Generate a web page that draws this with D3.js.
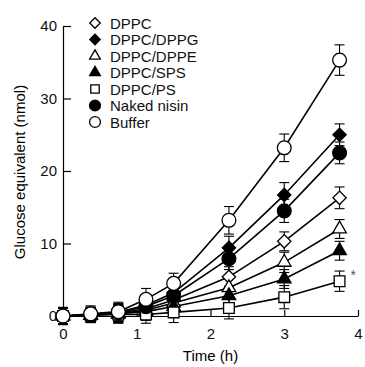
<!DOCTYPE html>
<meta charset="utf-8">
<style>
    body { margin: 0; background: #fff; }
    text { font-family: "Liberation Sans", Arial, sans-serif; }
</style>
<script src="https://d3js.org/d3.v7.min.js"></script>
<div id="chart"></div>
<script>
    // time points (h)
    var time = [0, 0.375, 0.75, 1.125, 1.5, 2.25, 3, 3.75];

    var seriesNames = ["DPPC", "DPPC/DPPG", "DPPC/DPPE", "DPPC/SPS", "DPPC/PS", "Naked nisin", "Buffer"];

    var dppc   = [0, 0.2, 0.4, 1.0, 2.2, 5.4, 10.3, 16.3];
    var dppg   = [0, 0.2, 0.5, 1.5, 3.2, 9.4, 16.7, 25.0];
    var dppe   = [0, 0.1, 0.3, 0.8, 1.8, 3.9, 7.4, 12.0];
    var sps    = [0, 0.1, 0.3, 0.6, 1.3, 2.8, 5.1, 9.0];
    var ps     = [0, 0.1, 0.2, 0.2, 0.5, 1.1, 2.6, 4.8];
    var naked  = [0, 0.2, 0.5, 1.3, 2.8, 7.9, 14.5, 22.5];
    var buffer = [0, 0.3, 0.6, 2.3, 4.5, 13.2, 23.2, 35.3];

    // error (+/-)
    var dppcErr   = [1.1, 1.0, 1.2, 1.2, 1.2, 1.4, 1.3, 1.5];
    var dppgErr   = [1.1, 1.0, 1.2, 1.2, 1.3, 1.6, 1.7, 1.5];
    var dppeErr   = [1.1, 1.0, 1.2, 1.2, 1.2, 1.3, 1.4, 1.3];
    var spsErr    = [1.1, 1.0, 1.2, 1.2, 1.2, 1.3, 1.3, 1.3];
    var psErr     = [1.1, 1.0, 1.2, 1.2, 1.4, 1.5, 1.6, 1.4];
    var nakedErr  = [1.1, 1.0, 1.2, 1.2, 1.3, 1.5, 1.6, 1.5];
    var bufferErr = [1.2, 1.1, 1.3, 1.5, 1.4, 1.9, 1.9, 2.1];

    var xTicks = [0, 1, 2, 3, 4];
    var yTicks = [0, 10, 20, 30, 40];

    var series = [
        {name: seriesNames[0], vals: dppc,   err: dppcErr,   shape: "diamond",  fill: "#fff"},
        {name: seriesNames[1], vals: dppg,   err: dppgErr,   shape: "diamond",  fill: "#000"},
        {name: seriesNames[2], vals: dppe,   err: dppeErr,   shape: "triangle", fill: "#fff"},
        {name: seriesNames[3], vals: sps,    err: spsErr,    shape: "triangle", fill: "#000"},
        {name: seriesNames[4], vals: ps,     err: psErr,     shape: "square",   fill: "#fff"},
        {name: seriesNames[5], vals: naked,  err: nakedErr,  shape: "circle",   fill: "#000"},
        {name: seriesNames[6], vals: buffer, err: bufferErr, shape: "circle",   fill: "#fff"}
    ];

    var margin = {top: 26, right: 7, bottom: 51, left: 63},
        width = 365 - margin.left - margin.right,
        height = 367 - margin.top - margin.bottom;

    var svg = d3.select("#chart")
        .append("svg")
        .attr("width", 365)
        .attr("height", 367)
        .append("g")
        .attr("transform", "translate(" + margin.left + "," + margin.top + ")");

    var x = d3.scaleLinear().domain([0, 4]).range([0, width]);
    var y = d3.scaleLinear().domain([0, 40]).range([height, 0]);

    // axes, ticks inward
    var xAxis = svg.append("g")
        .attr("transform", "translate(0," + height + ")")
        .call(d3.axisBottom(x).tickValues(xTicks).tickFormat(d3.format("d"))
            .tickSize(-6).tickSizeOuter(0).tickPadding(12));
    var yAxis = svg.append("g")
        .call(d3.axisLeft(y).tickValues(yTicks).tickFormat(d3.format("d"))
            .tickSize(-8).tickSizeOuter(0).tickPadding(6));

    [xAxis, yAxis].forEach(function(a) {
        a.selectAll("path, line").attr("stroke", "#000").attr("stroke-width", 1.2);
        a.selectAll("text").style("font-size", "15px").attr("fill", "#111")
            .style("font-family", "'Liberation Sans', Arial, sans-serif");
    });
    yAxis.selectAll("text").attr("x", -6);

    svg.append("text")
        .attr("x", width / 2)
        .attr("y", height + 45)
        .attr("text-anchor", "middle")
        .style("font-size", "15px")
        .text("Time (h)");

    svg.append("text")
        .attr("transform", "translate(-38," + (height / 2 + 1) + ") rotate(-90)")
        .attr("text-anchor", "middle")
        .style("font-size", "15px")
        .text("Glucose equivalent (nmol)");

    function symbolPath(shape, k) {
        if (shape === "circle") return d3.symbol().type(d3.symbolCircle).size(150 * k)();
        if (shape === "square") return d3.symbol().type(d3.symbolSquare).size(115 * k)();
        if (shape === "triangle") return d3.symbol().type(d3.symbolTriangle).size(80 * k)();
        return d3.symbol().type(d3.symbolSquare).size(88 * k)();
    }
    function symbolRotate(shape) { return shape === "diamond" ? " rotate(45)" : ""; }

    var line = d3.line()
        .x(function(d, i) { return x(time[i]); })
        .y(function(d) { return y(d); });

    // lines
    svg.selectAll(".series-line")
        .data(series)
        .enter()
        .append("path")
        .attr("class", "series-line")
        .attr("fill", "none")
        .attr("stroke", "#000")
        .attr("stroke-width", 1.6)
        .attr("d", function(d) { return line(d.vals); });

    // error bars
    series.forEach(function(s) {
        var g = svg.append("g").attr("stroke", "#000").attr("stroke-width", 1.1);
        s.vals.forEach(function(v, i) {
            var cx = x(time[i]);
            g.append("line").attr("x1", cx).attr("x2", cx)
                .attr("y1", y(v - s.err[i])).attr("y2", y(v + s.err[i]));
            g.append("line").attr("x1", cx - 5).attr("x2", cx + 5)
                .attr("y1", y(v + s.err[i])).attr("y2", y(v + s.err[i]));
            g.append("line").attr("x1", cx - 5).attr("x2", cx + 5)
                .attr("y1", y(v - s.err[i])).attr("y2", y(v - s.err[i]));
        });
    });

    // markers
    series.forEach(function(s) {
        svg.append("g").selectAll("path")
            .data(s.vals)
            .enter()
            .append("path")
            .attr("d", symbolPath(s.shape, 1))
            .attr("transform", function(d, i) {
                return "translate(" + x(time[i]) + "," + y(d) + ")" + symbolRotate(s.shape);
            })
            .attr("fill", s.fill)
            .attr("stroke", "#000")
            .attr("stroke-width", 1.3);
    });

    // significance mark
    svg.append("text")
        .attr("x", x(3.75) + 11)
        .attr("y", y(ps[7]) - 1)
        .style("font-size", "14px")
        .attr("fill", "#555")
        .text("*");

    // legend
    var legend = svg.selectAll(".legend")
        .data(series)
        .enter()
        .append("g")
        .attr("class", "legend")
        .attr("transform", function(d, i) { return "translate(32," + (-3 + i * 16.5) + ")"; });

    legend.append("path")
        .attr("d", function(d) { return symbolPath(d.shape, 0.62); })
        .attr("transform", function(d) { return "translate(0,0)" + symbolRotate(d.shape); })
        .attr("fill", function(d) { return d.fill; })
        .attr("stroke", "#000")
        .attr("stroke-width", 1.3);

    legend.append("text")
        .attr("x", 15)
        .attr("y", 5.5)
        .style("font-size", "15px")
        .attr("fill", "#111")
        .text(function(d) { return d.name; });
</script>
